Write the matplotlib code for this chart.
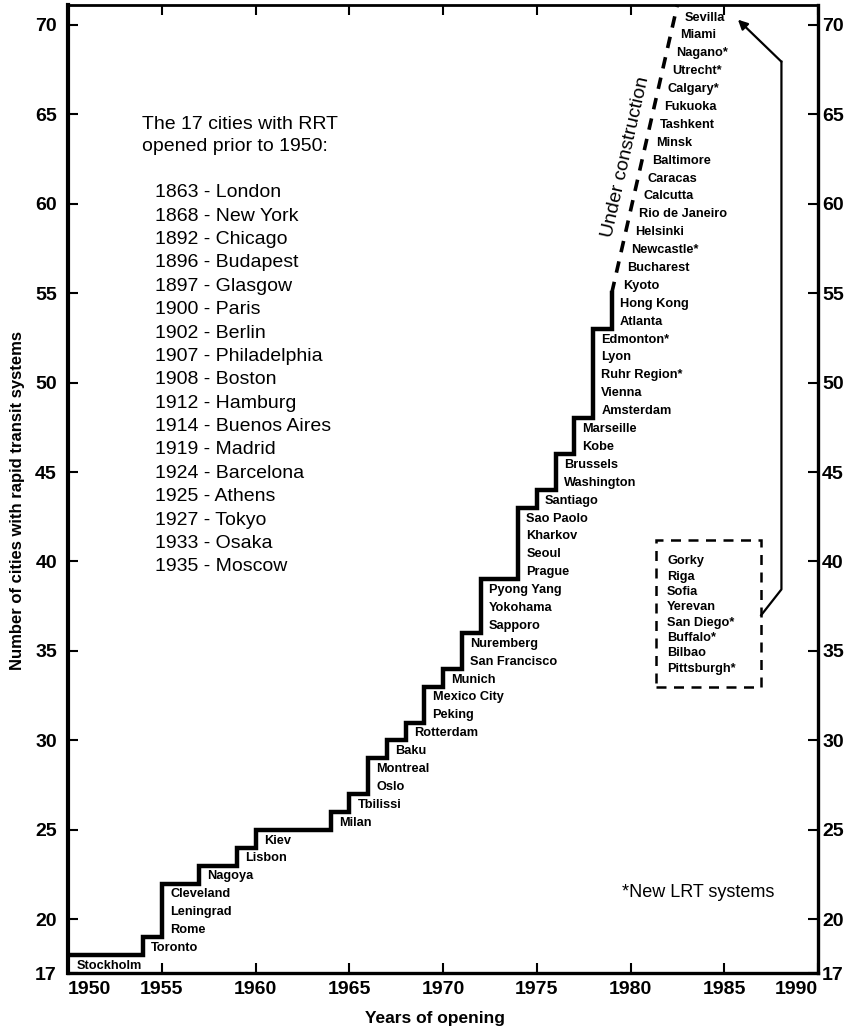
import numpy as np
import matplotlib
matplotlib.use("Agg")
import matplotlib.pyplot as plt
from matplotlib.patches import Rectangle

plt.rcParams['font.family'] = ['Liberation Sans', 'DejaVu Sans']

# Years in which new rapid transit systems opened, with the cities opened
# that year (listed bottom to top as they are stacked on the step)
open_years = [1950, 1954, 1955, 1957, 1959, 1960, 1964, 1965, 1966, 1967,
              1968, 1969, 1970, 1971, 1972, 1974, 1975, 1976, 1977, 1978, 1979]
opened_cities = [
    ["Stockholm"],
    ["Toronto"],
    ["Rome", "Leningrad", "Cleveland"],
    ["Nagoya"],
    ["Lisbon"],
    ["Kiev"],
    ["Milan"],
    ["Tbilissi"],
    ["Oslo", "Montreal"],
    ["Baku"],
    ["Rotterdam"],
    ["Peking", "Mexico City"],
    ["Munich"],
    ["San Francisco", "Nuremberg"],
    ["Sapporo", "Yokohama", "Pyong Yang"],
    ["Prague", "Seoul", "Kharkov", "Sao Paolo"],
    ["Santiago"],
    ["Washington", "Brussels"],
    ["Kobe", "Marseille"],
    ["Amsterdam", "Vienna", "Ruhr Region*", "Lyon", "Edmonton*"],
    ["Atlanta", "Hong Kong"],
]
cities_before_1950 = 17

# Systems under construction (bottom to top) and the span of years they cover
construction_cities = ["Kyoto", "Bucharest", "Newcastle*", "Helsinki",
                       "Rio de Janeiro", "Calcutta", "Caracas", "Baltimore",
                       "Minsk", "Tashkent", "Fukuoka", "Calgary*", "Utrecht*",
                       "Nagano*", "Miami", "Sevilla"]
construction_years = (1979, 1982.5)

# Systems planned, shown in the dashed box
planned_cities = ["Gorky", "Riga", "Sofia", "Yerevan", "San Diego*",
                  "Buffalo*", "Bilbao", "Pittsburgh*"]

# Cities with rapid transit opened before 1950
early_years = [1863, 1868, 1892, 1896, 1897, 1900, 1902, 1907, 1908, 1912,
               1914, 1919, 1924, 1925, 1927, 1933, 1935]
early_cities = ["London", "New York", "Chicago", "Budapest", "Glasgow",
                "Paris", "Berlin", "Philadelphia", "Boston", "Hamburg",
                "Buenos Aires", "Madrid", "Barcelona", "Athens", "Tokyo",
                "Osaka", "Moscow"]

x_ticks = [1950, 1955, 1960, 1965, 1970, 1975, 1980, 1985, 1990]
y_ticks = [17, 20, 25, 30, 35, 40, 45, 50, 55, 60, 65, 70]

counts = cities_before_1950 + np.cumsum([len(c) for c in opened_cities])

fig = plt.figure(figsize=(8.52, 10.34), dpi=100)
ax = fig.add_axes([68 / 852, 61 / 1034, 750 / 852, 968 / 1034])
ax.set_xlim(1950, 1990)
ax.set_ylim(17, 71.1)

# Cumulative step line
ax.step(open_years, counts, where='post', color='black', lw=3.2,
        solid_joinstyle='miter', zorder=3)

label_kw = dict(fontsize=9.2, fontweight='bold', va='center', ha='left',
                textcoords='offset points', annotation_clip=False)

prev = cities_before_1950
for year, names in zip(open_years, opened_cities):
    for j, name in enumerate(names):
        n = prev + j + 1
        ax.annotate(name, xy=(year, n - 0.6), xytext=(6, 0), **label_kw)
    prev += len(names)

# Dashed line for systems under construction
last_count = counts[-1]
cx = [construction_years[0], construction_years[1]]
cy = [last_count, 71.1]
ax.plot(cx, cy, color='black', lw=2.6, linestyle=(0, (3.2, 2.6)),
        dash_capstyle='butt', clip_on=False, zorder=3)

slope = (cx[1] - cx[0]) / (cy[1] - cy[0])
for k, name in enumerate(construction_cities):
    n = last_count + k + 1
    yv = n - 0.6
    xv = cx[0] + (yv - cy[0]) * slope
    ax.annotate(name, xy=(xv, yv), xytext=(7, 0), **label_kw)

# Text along the dashed line
p0 = ax.transData.transform((cx[0], cy[0]))
p1 = ax.transData.transform((cx[1], cy[1]))
angle = np.degrees(np.arctan2(p1[1] - p0[1], p1[0] - p0[0]))
ax.text(1979.75, 62.6, "Under construction", rotation=angle,
        rotation_mode='anchor', ha='center', va='center', fontsize=14)

# Dashed box of planned systems
box = Rectangle((1981.34, 33.0), 5.63, 8.2, fill=False, edgecolor='black',
                lw=1.8, linestyle=(0, (4, 3)), zorder=2)
ax.add_patch(box)
for k, name in enumerate(planned_cities):
    ax.text(1981.95, 40.0 - k * 0.857, name, fontsize=9.2, fontweight='bold',
            va='center', ha='left')

# Connector and arrow from the box to the top of the list
ax.plot([1986.97, 1988.05, 1988.05], [37.0, 38.44, 67.93], color='black',
        lw=1.6, zorder=2)
ax.annotate('', xy=(1985.73, 70.28), xytext=(1988.05, 67.93),
            arrowprops=dict(arrowstyle='-|>', lw=1.6, color='black',
                            mutation_scale=14, shrinkA=0, shrinkB=0))

# Cities opened before 1950
ax.text(1953.95, 64.41, "The 17 cities with RRT", fontsize=14,
        va='center', ha='left')
ax.text(1953.95, 63.18, "opened prior to 1950:", fontsize=14,
        va='center', ha='left')
for k, (yr, name) in enumerate(zip(early_years, early_cities)):
    ax.text(1954.64, 60.61 - k * 1.307, f"{yr} - {name}", fontsize=14,
            va='center', ha='left')

# Footnote
ax.text(1983.6, 21.5, "*New LRT systems", fontsize=13, ha='center',
        va='center')

# Axes, ticks and labels
for side, lw in [('left', 3.0), ('bottom', 2.4), ('right', 2.4), ('top', 2.0)]:
    ax.spines[side].set_linewidth(lw)

ax.set_xticks(x_ticks)
ax.set_xticklabels([str(t) for t in x_ticks], fontsize=14, fontweight='bold')
ax.set_yticks(y_ticks)
ax.set_yticklabels([str(t) for t in y_ticks], fontsize=14, fontweight='bold')
ax.tick_params(axis='x', direction='in', top=True, bottom=True, length=7,
               width=1.5, pad=6)
ax.tick_params(axis='y', direction='in', left=True, right=False, length=7,
               width=1.5, pad=8)
xl = ax.get_xticklabels()
xl[0].set_ha('left')
xl[-1].set_ha('right')

ax2 = ax.twinx()
ax2.set_ylim(ax.get_ylim())
ax2.set_yticks(y_ticks)
ax2.set_yticklabels([str(t) for t in y_ticks], fontsize=14, fontweight='bold')
ax2.tick_params(axis='y', direction='in', right=True, length=7, width=1.5,
                pad=3)
for side in ['left', 'bottom', 'right', 'top']:
    ax2.spines[side].set_visible(False)

fig.text(18 / 852, 1 - 500 / 1034,
         "Number of cities with rapid transit systems", rotation=90,
         ha='center', va='center', fontsize=12, fontweight='bold')
fig.text(435 / 852, 1 - 1018 / 1034, "Years of opening", ha='center',
         va='center', fontsize=12.5, fontweight='bold')

fig.savefig("out.png", dpi=100)
